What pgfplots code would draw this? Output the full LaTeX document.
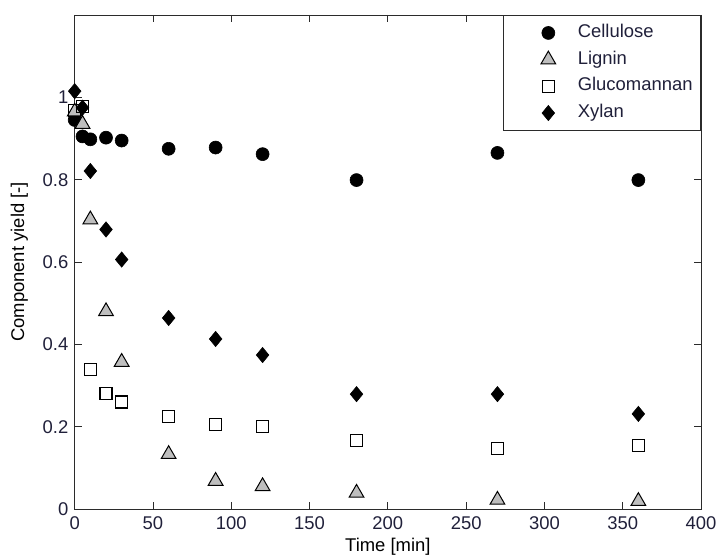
\documentclass[border=0pt]{standalone}
\usepackage{fontspec}
\setmainfont{Liberation Sans}
\usepackage{pgfplots}
\pgfplotsset{compat=1.18}

\definecolor{axisgray}{HTML}{2B2B2B}
\definecolor{ticktext}{HTML}{20203A}
\definecolor{lignfill}{HTML}{BEBEBE}

\begin{document}
\fontsize{18.5}{22}\selectfont
\begin{tikzpicture}
\begin{axis}[
  scale only axis,
  width=626.3bp, height=494bp,
  xmin=0, xmax=400, ymin=0, ymax=1.2,
  xtick={0,50,...,400},
  ytick={0,0.2,0.4,0.6,0.8,1},
  yticklabels={0,0.2,0.4,0.6,0.8,1},
  tick align=inside,
  tick pos=both,
  major tick length=7bp,
  minor tick num=0,
  axis line style={axisgray, line width=0.9bp},
  tick style={axisgray, line width=0.9bp},
  /pgf/number format/assume math mode=true,
  ticklabel style={font=\fontsize{18.5}{22}\selectfont, text=ticktext},
  xticklabel style={yshift=-1bp},
  yticklabel style={xshift=0bp},
  every axis x label/.style={at={(axis description cs:0.5,-0.0769)}, anchor=center},
  every axis y label/.style={at={(axis description cs:-0.0885,0.5)}, rotate=90, anchor=center},
  label style={font=\fontsize{18.5}{22}\selectfont, text=black},
  xlabel={Time [min]},
  ylabel={Component yield [-]},
  only marks,
  legend image code/.code={%
    \path (-36bp,0bp) (22bp,0bp);
    \draw[#1] plot coordinates {(0bp,0bp)};},
  legend style={at={(1,1)}, anchor=north east, draw=axisgray, line width=0.9bp,
    inner xsep=8bp, inner ysep=9bp, row sep=9.7bp, column sep=7bp,
    font=\fontsize{18.5}{22}\selectfont, text=ticktext,
    nodes={inner sep=0pt, text height=13bp, text depth=4bp, anchor=west}},
  legend cell align=left,
  clip=false,
]
% Cellulose
\addplot[mark=*, mark size=6.5bp, mark options={draw=black, fill=black, line width=0.6bp}]
  coordinates {(0,0.945) (5,0.905) (10,0.898) (20,0.902) (30,0.895) (60,0.875)
               (90,0.878) (120,0.862) (180,0.799) (270,0.865) (360,0.799)};
\addlegendentry{Cellulose}
% Lignin
\addplot[mark=triangle*, mark size=8.5bp, mark options={draw=black, fill=lignfill, line width=1bp}]
  coordinates {(0,0.965) (5,0.935) (10,0.703) (20,0.48) (30,0.357) (60,0.133)
               (90,0.068) (120,0.055) (180,0.039) (270,0.022) (360,0.019)};
\addlegendentry{Lignin}
% Glucomannan
\addplot[mark=square, mark size=6bp, mark options={draw=black, fill=white, line width=1.2bp}]
  coordinates {(0,0.968) (5,0.978) (10,0.339) (20,0.281) (30,0.26) (60,0.224)
               (90,0.206) (120,0.2) (180,0.167) (270,0.146) (360,0.154)};
\addlegendentry{Glucomannan}
% Xylan
\addplot[mark=diamond*, mark size=7.6bp, mark options={draw=black, fill=black, line width=0.6bp, xscale=1.1}]
  coordinates {(0,1.015) (5,0.975) (10,0.821) (20,0.679) (30,0.606) (60,0.464)
               (90,0.413) (120,0.374) (180,0.279) (270,0.279) (360,0.231)};
\addlegendentry{Xylan}
\end{axis}
\pgfresetboundingbox
\path[use as bounding box] ([xshift=-74.7bp,yshift=-49bp]current axis.south west)
  rectangle ([xshift=16bp,yshift=15bp]current axis.north east);
\end{tikzpicture}
\end{document}
